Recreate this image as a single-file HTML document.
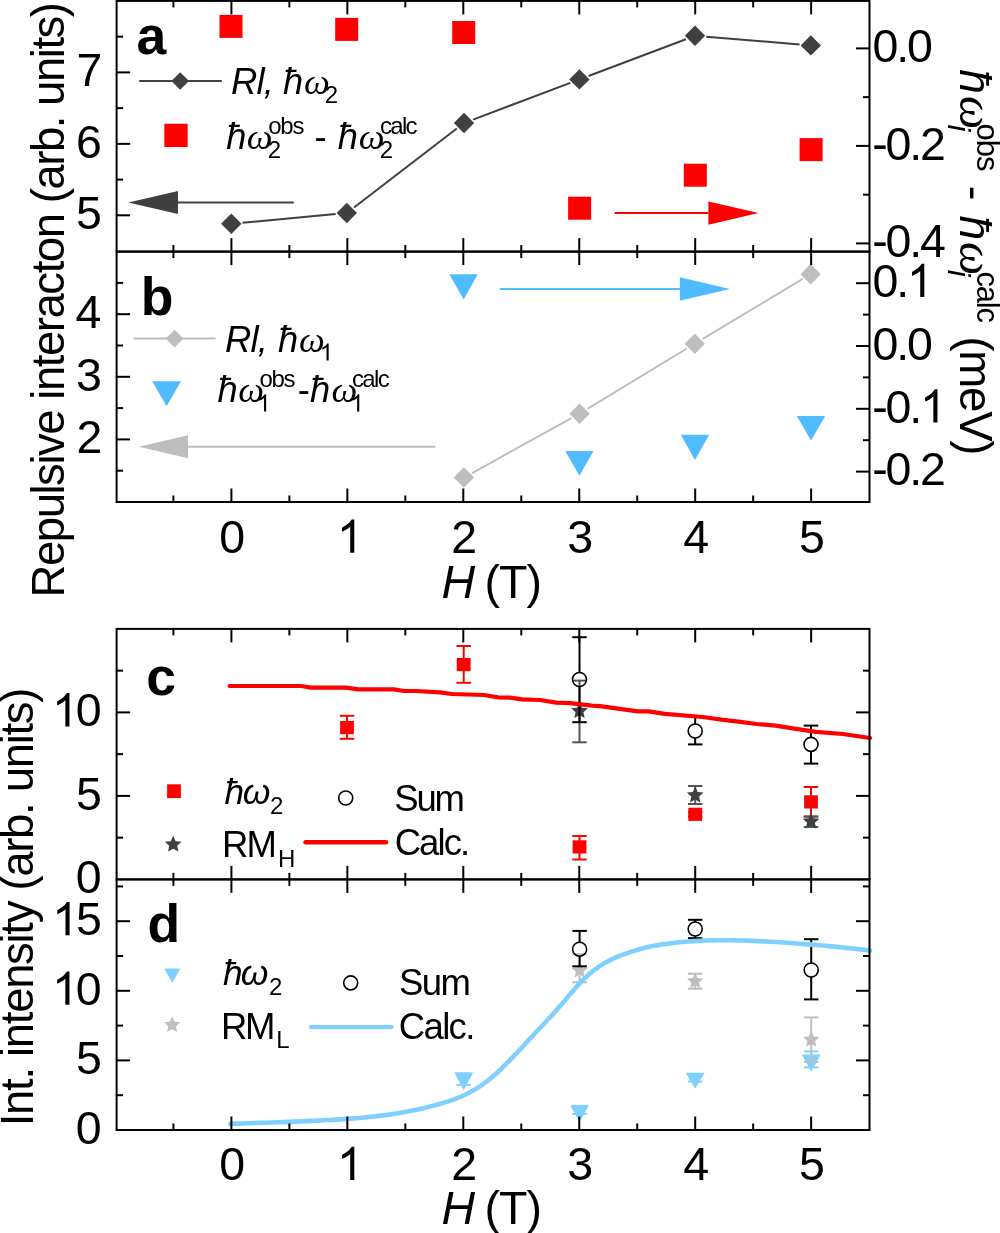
<!DOCTYPE html>
<html><head><meta charset="utf-8"><style>
html,body{margin:0;padding:0;background:#fff;overflow:hidden;}
svg{display:block;will-change:transform;}
</style></head><body>
<svg width="1000" height="1233" viewBox="0 0 1000 1233">
<rect width="1000" height="1233" fill="#fff"/>
<line x1="242.42" y1="222.71" x2="335.68" y2="214.04" stroke="#404040" stroke-width="2.00" stroke-linecap="butt"/>
<line x1="354.00" y1="207.47" x2="456.80" y2="128.53" stroke="#404040" stroke-width="2.00" stroke-linecap="butt"/>
<line x1="473.09" y1="119.57" x2="570.31" y2="82.83" stroke="#404040" stroke-width="2.00" stroke-linecap="butt"/>
<line x1="588.49" y1="75.97" x2="685.91" y2="39.23" stroke="#404040" stroke-width="2.00" stroke-linecap="butt"/>
<line x1="706.21" y1="36.73" x2="799.59" y2="44.47" stroke="#404040" stroke-width="2.00" stroke-linecap="butt"/>
<path d="M231.30 213.55L241.50 223.75L231.30 233.95L221.10 223.75Z" fill="#404040"/>
<path d="M346.80 202.80L357.00 213.00L346.80 223.20L336.60 213.00Z" fill="#404040"/>
<path d="M464.00 112.80L474.20 123.00L464.00 133.20L453.80 123.00Z" fill="#404040"/>
<path d="M579.40 69.20L589.60 79.40L579.40 89.60L569.20 79.40Z" fill="#404040"/>
<path d="M695.00 25.60L705.20 35.80L695.00 46.00L684.80 35.80Z" fill="#404040"/>
<path d="M810.80 35.20L821.00 45.40L810.80 55.60L800.60 45.40Z" fill="#404040"/>
<rect x="219.50" y="14.90" width="23.00" height="23.00" fill="#ff0000"/>
<rect x="335.20" y="17.90" width="23.00" height="23.00" fill="#ff0000"/>
<rect x="452.20" y="21.00" width="23.00" height="23.00" fill="#ff0000"/>
<rect x="568.10" y="196.70" width="23.00" height="23.00" fill="#ff0000"/>
<rect x="683.80" y="163.70" width="23.00" height="23.00" fill="#ff0000"/>
<rect x="799.60" y="138.10" width="23.00" height="23.00" fill="#ff0000"/>
<line x1="293.75" y1="202.50" x2="178.00" y2="202.50" stroke="#404040" stroke-width="2.00" stroke-linecap="butt"/>
<path d="M178.00 190.90L128.25 202.50L178.00 214.10Z" fill="#404040"/>
<line x1="614.60" y1="213.10" x2="708.40" y2="213.10" stroke="#ff0000" stroke-width="2.00" stroke-linecap="butt"/>
<path d="M708.40 201.40L758.60 213.10L708.40 224.80Z" fill="#ff0000"/>
<line x1="139.20" y1="81.00" x2="221.80" y2="81.00" stroke="#404040" stroke-width="2.00" stroke-linecap="butt"/>
<path d="M180.20 72.20L189.00 81.00L180.20 89.80L171.40 81.00Z" fill="#404040"/>
<rect x="164.35" y="123.75" width="23.30" height="23.30" fill="#ff0000"/>
<line x1="472.05" y1="473.01" x2="571.45" y2="418.19" stroke="#bebebe" stroke-width="2.00" stroke-linecap="butt"/>
<line x1="587.48" y1="408.91" x2="686.92" y2="348.49" stroke="#bebebe" stroke-width="2.00" stroke-linecap="butt"/>
<line x1="702.72" y1="338.95" x2="802.68" y2="278.95" stroke="#bebebe" stroke-width="2.00" stroke-linecap="butt"/>
<path d="M463.90 467.30L474.10 477.50L463.90 487.70L453.70 477.50Z" fill="#bebebe"/>
<path d="M579.60 403.50L589.80 413.70L579.60 423.90L569.40 413.70Z" fill="#bebebe"/>
<path d="M694.80 333.50L705.00 343.70L694.80 353.90L684.60 343.70Z" fill="#bebebe"/>
<path d="M810.60 264.00L820.80 274.20L810.60 284.40L800.40 274.20Z" fill="#bebebe"/>
<path d="M449.40 274.20L477.80 274.20L463.60 299.40Z" fill="#50bbff"/>
<path d="M565.20 451.00L593.60 451.00L579.40 475.70Z" fill="#50bbff"/>
<path d="M680.80 434.80L709.20 434.80L695.00 459.90Z" fill="#50bbff"/>
<path d="M796.80 415.90L825.20 415.90L811.00 440.50Z" fill="#50bbff"/>
<line x1="499.80" y1="289.00" x2="679.90" y2="289.00" stroke="#50bbff" stroke-width="2.00" stroke-linecap="butt"/>
<path d="M679.90 277.35L730.00 289.00L679.90 300.65Z" fill="#50bbff"/>
<line x1="435.40" y1="446.80" x2="188.00" y2="446.80" stroke="#bebebe" stroke-width="2.00" stroke-linecap="butt"/>
<path d="M188.00 435.30L138.80 446.80L188.00 458.30Z" fill="#bebebe"/>
<line x1="133.60" y1="338.60" x2="215.60" y2="338.60" stroke="#bebebe" stroke-width="2.00" stroke-linecap="butt"/>
<path d="M174.60 329.80L183.40 338.60L174.60 347.40L165.80 338.60Z" fill="#bebebe"/>
<path d="M152.20 381.20L181.00 381.20L166.60 406.20Z" fill="#50bbff"/>
<line x1="347.00" y1="715.80" x2="347.00" y2="738.80" stroke="#ff0000" stroke-width="2.00" stroke-linecap="butt"/>
<line x1="339.75" y1="715.80" x2="354.25" y2="715.80" stroke="#ff0000" stroke-width="2.00" stroke-linecap="butt"/>
<line x1="339.75" y1="738.80" x2="354.25" y2="738.80" stroke="#ff0000" stroke-width="2.00" stroke-linecap="butt"/>
<rect x="340.10" y="721.00" width="13.80" height="13.20" fill="#ff0000"/>
<line x1="463.70" y1="646.00" x2="463.70" y2="682.80" stroke="#ff0000" stroke-width="2.00" stroke-linecap="butt"/>
<line x1="456.45" y1="646.00" x2="470.95" y2="646.00" stroke="#ff0000" stroke-width="2.00" stroke-linecap="butt"/>
<line x1="456.45" y1="682.80" x2="470.95" y2="682.80" stroke="#ff0000" stroke-width="2.00" stroke-linecap="butt"/>
<rect x="456.80" y="658.00" width="13.80" height="13.20" fill="#ff0000"/>
<line x1="579.50" y1="836.00" x2="579.50" y2="859.50" stroke="#ff0000" stroke-width="2.00" stroke-linecap="butt"/>
<line x1="572.25" y1="836.00" x2="586.75" y2="836.00" stroke="#ff0000" stroke-width="2.00" stroke-linecap="butt"/>
<line x1="572.25" y1="859.50" x2="586.75" y2="859.50" stroke="#ff0000" stroke-width="2.00" stroke-linecap="butt"/>
<rect x="572.60" y="840.30" width="13.80" height="13.20" fill="#ff0000"/>
<line x1="695.20" y1="812.50" x2="695.20" y2="816.50" stroke="#ff0000" stroke-width="2.00" stroke-linecap="butt"/>
<line x1="687.95" y1="812.50" x2="702.45" y2="812.50" stroke="#ff0000" stroke-width="2.00" stroke-linecap="butt"/>
<line x1="687.95" y1="816.50" x2="702.45" y2="816.50" stroke="#ff0000" stroke-width="2.00" stroke-linecap="butt"/>
<rect x="688.30" y="807.70" width="13.80" height="13.20" fill="#ff0000"/>
<line x1="811.00" y1="787.00" x2="811.00" y2="816.50" stroke="#ff0000" stroke-width="2.00" stroke-linecap="butt"/>
<line x1="803.75" y1="787.00" x2="818.25" y2="787.00" stroke="#ff0000" stroke-width="2.00" stroke-linecap="butt"/>
<line x1="803.75" y1="816.50" x2="818.25" y2="816.50" stroke="#ff0000" stroke-width="2.00" stroke-linecap="butt"/>
<rect x="804.10" y="795.30" width="13.80" height="13.20" fill="#ff0000"/>
<line x1="579.50" y1="680.60" x2="579.50" y2="742.30" stroke="#555555" stroke-width="2.00" stroke-linecap="butt"/>
<line x1="572.25" y1="680.60" x2="586.75" y2="680.60" stroke="#555555" stroke-width="2.00" stroke-linecap="butt"/>
<line x1="572.25" y1="742.30" x2="586.75" y2="742.30" stroke="#555555" stroke-width="2.00" stroke-linecap="butt"/>
<path d="M579.50 702.20L581.93 707.65L587.87 708.28L583.43 712.28L584.67 718.12L579.50 715.14L574.33 718.12L575.57 712.28L571.13 708.28L577.07 707.65Z" fill="#404040"/>
<line x1="695.20" y1="786.00" x2="695.20" y2="804.00" stroke="#555555" stroke-width="2.00" stroke-linecap="butt"/>
<line x1="687.95" y1="786.00" x2="702.45" y2="786.00" stroke="#555555" stroke-width="2.00" stroke-linecap="butt"/>
<line x1="687.95" y1="804.00" x2="702.45" y2="804.00" stroke="#555555" stroke-width="2.00" stroke-linecap="butt"/>
<path d="M695.20 786.50L697.63 791.95L703.57 792.58L699.13 796.58L700.37 802.42L695.20 799.44L690.03 802.42L691.27 796.58L686.83 792.58L692.77 791.95Z" fill="#404040"/>
<line x1="811.00" y1="816.60" x2="811.00" y2="827.00" stroke="#555555" stroke-width="2.00" stroke-linecap="butt"/>
<line x1="803.75" y1="816.60" x2="818.25" y2="816.60" stroke="#555555" stroke-width="2.00" stroke-linecap="butt"/>
<line x1="803.75" y1="827.00" x2="818.25" y2="827.00" stroke="#555555" stroke-width="2.00" stroke-linecap="butt"/>
<path d="M811.00 812.70L813.43 818.15L819.37 818.78L814.93 822.78L816.17 828.62L811.00 825.64L805.83 828.62L807.07 822.78L802.63 818.78L808.57 818.15Z" fill="#404040"/>
<line x1="579.50" y1="637.20" x2="579.50" y2="672.50" stroke="#000" stroke-width="2.00" stroke-linecap="butt"/>
<line x1="579.50" y1="686.50" x2="579.50" y2="722.20" stroke="#000" stroke-width="2.00" stroke-linecap="butt"/>
<line x1="572.25" y1="637.20" x2="586.75" y2="637.20" stroke="#000" stroke-width="2.00" stroke-linecap="butt"/>
<line x1="572.25" y1="722.20" x2="586.75" y2="722.20" stroke="#000" stroke-width="2.00" stroke-linecap="butt"/>
<circle cx="579.50" cy="679.50" r="7.00" fill="none" stroke="#000" stroke-width="1.60"/>
<line x1="695.20" y1="716.60" x2="695.20" y2="724.00" stroke="#000" stroke-width="2.00" stroke-linecap="butt"/>
<line x1="695.20" y1="738.00" x2="695.20" y2="744.40" stroke="#000" stroke-width="2.00" stroke-linecap="butt"/>
<line x1="687.95" y1="716.60" x2="702.45" y2="716.60" stroke="#000" stroke-width="2.00" stroke-linecap="butt"/>
<line x1="687.95" y1="744.40" x2="702.45" y2="744.40" stroke="#000" stroke-width="2.00" stroke-linecap="butt"/>
<circle cx="695.20" cy="731.00" r="7.00" fill="none" stroke="#000" stroke-width="1.60"/>
<line x1="811.00" y1="725.60" x2="811.00" y2="737.40" stroke="#000" stroke-width="2.00" stroke-linecap="butt"/>
<line x1="811.00" y1="751.40" x2="811.00" y2="763.60" stroke="#000" stroke-width="2.00" stroke-linecap="butt"/>
<line x1="803.75" y1="725.60" x2="818.25" y2="725.60" stroke="#000" stroke-width="2.00" stroke-linecap="butt"/>
<line x1="803.75" y1="763.60" x2="818.25" y2="763.60" stroke="#000" stroke-width="2.00" stroke-linecap="butt"/>
<circle cx="811.00" cy="744.40" r="7.00" fill="none" stroke="#000" stroke-width="1.60"/>
<polyline points="229.60,686.00 301.00,686.00 311.00,687.60 346.00,687.60 358.00,689.40 394.00,689.40 404.00,691.00 416.00,691.00 440.00,692.40 452.00,694.00 484.00,695.00 498.00,697.40 510.00,697.60 522.00,699.40 540.00,700.00 556.00,702.60 570.00,703.20 592.00,705.60 600.00,706.20 637.80,711.30 648.60,711.30 664.80,713.80 702.60,717.00 721.50,719.70 740.40,721.90 756.60,724.00 775.50,725.60 794.40,728.60 816.00,731.80 843.00,734.00 870.00,738.00" fill="none" stroke="#ff0000" stroke-width="4.20" stroke-linejoin="round" stroke-linecap="round"/>
<rect x="167.10" y="784.30" width="13.80" height="13.80" fill="#ff0000"/>
<circle cx="345.70" cy="798.00" r="7.00" fill="none" stroke="#000" stroke-width="1.60"/>
<path d="M173.20 835.70L175.63 841.15L181.57 841.78L177.13 845.78L178.37 851.62L173.20 848.64L168.03 851.62L169.27 845.78L164.83 841.78L170.77 841.15Z" fill="#404040"/>
<line x1="305.50" y1="842.30" x2="386.00" y2="842.30" stroke="#ff0000" stroke-width="4.40" stroke-linecap="round"/>
<line x1="463.70" y1="1073.40" x2="463.70" y2="1084.90" stroke="#80d0ff" stroke-width="2.00" stroke-linecap="butt"/>
<line x1="456.45" y1="1073.40" x2="470.95" y2="1073.40" stroke="#80d0ff" stroke-width="2.00" stroke-linecap="butt"/>
<line x1="456.45" y1="1084.90" x2="470.95" y2="1084.90" stroke="#80d0ff" stroke-width="2.00" stroke-linecap="butt"/>
<path d="M454.20 1072.50L473.20 1072.50L463.70 1090.20Z" fill="#80d0ff"/>
<line x1="579.60" y1="1106.00" x2="579.60" y2="1114.00" stroke="#80d0ff" stroke-width="2.00" stroke-linecap="butt"/>
<line x1="572.35" y1="1106.00" x2="586.85" y2="1106.00" stroke="#80d0ff" stroke-width="2.00" stroke-linecap="butt"/>
<line x1="572.35" y1="1114.00" x2="586.85" y2="1114.00" stroke="#80d0ff" stroke-width="2.00" stroke-linecap="butt"/>
<path d="M570.10 1105.20L589.10 1105.20L579.60 1121.80Z" fill="#80d0ff"/>
<line x1="695.20" y1="1075.00" x2="695.20" y2="1081.50" stroke="#80d0ff" stroke-width="2.00" stroke-linecap="butt"/>
<line x1="687.95" y1="1075.00" x2="702.45" y2="1075.00" stroke="#80d0ff" stroke-width="2.00" stroke-linecap="butt"/>
<line x1="687.95" y1="1081.50" x2="702.45" y2="1081.50" stroke="#80d0ff" stroke-width="2.00" stroke-linecap="butt"/>
<path d="M685.70 1072.70L704.70 1072.70L695.20 1088.80Z" fill="#80d0ff"/>
<line x1="811.20" y1="1051.40" x2="811.20" y2="1067.40" stroke="#80d0ff" stroke-width="2.00" stroke-linecap="butt"/>
<line x1="803.95" y1="1051.40" x2="818.45" y2="1051.40" stroke="#80d0ff" stroke-width="2.00" stroke-linecap="butt"/>
<line x1="803.95" y1="1067.40" x2="818.45" y2="1067.40" stroke="#80d0ff" stroke-width="2.00" stroke-linecap="butt"/>
<path d="M801.70 1054.60L820.70 1054.60L811.20 1071.60Z" fill="#80d0ff"/>
<line x1="579.60" y1="954.30" x2="579.60" y2="982.30" stroke="#bebebe" stroke-width="2.00" stroke-linecap="butt"/>
<line x1="572.35" y1="954.30" x2="586.85" y2="954.30" stroke="#bebebe" stroke-width="2.00" stroke-linecap="butt"/>
<line x1="572.35" y1="982.30" x2="586.85" y2="982.30" stroke="#bebebe" stroke-width="2.00" stroke-linecap="butt"/>
<path d="M579.60 961.90L581.98 967.23L587.78 967.84L583.44 971.75L584.65 977.46L579.60 974.54L574.55 977.46L575.76 971.75L571.42 967.84L577.22 967.23Z" fill="#bebebe"/>
<line x1="695.20" y1="973.70" x2="695.20" y2="988.70" stroke="#bebebe" stroke-width="2.00" stroke-linecap="butt"/>
<line x1="687.95" y1="973.70" x2="702.45" y2="973.70" stroke="#bebebe" stroke-width="2.00" stroke-linecap="butt"/>
<line x1="687.95" y1="988.70" x2="702.45" y2="988.70" stroke="#bebebe" stroke-width="2.00" stroke-linecap="butt"/>
<path d="M695.20 972.60L697.58 977.93L703.38 978.54L699.04 982.45L700.25 988.16L695.20 985.24L690.15 988.16L691.36 982.45L687.02 978.54L692.82 977.93Z" fill="#bebebe"/>
<line x1="811.20" y1="1017.40" x2="811.20" y2="1061.90" stroke="#bebebe" stroke-width="2.00" stroke-linecap="butt"/>
<line x1="803.95" y1="1017.40" x2="818.45" y2="1017.40" stroke="#bebebe" stroke-width="2.00" stroke-linecap="butt"/>
<line x1="803.95" y1="1061.90" x2="818.45" y2="1061.90" stroke="#bebebe" stroke-width="2.00" stroke-linecap="butt"/>
<path d="M811.20 1031.10L813.58 1036.43L819.38 1037.04L815.04 1040.95L816.25 1046.66L811.20 1043.74L806.15 1046.66L807.36 1040.95L803.02 1037.04L808.82 1036.43Z" fill="#bebebe"/>
<line x1="579.60" y1="930.90" x2="579.60" y2="942.20" stroke="#000" stroke-width="2.00" stroke-linecap="butt"/>
<line x1="579.60" y1="956.20" x2="579.60" y2="966.30" stroke="#000" stroke-width="2.00" stroke-linecap="butt"/>
<line x1="572.35" y1="930.90" x2="586.85" y2="930.90" stroke="#000" stroke-width="2.00" stroke-linecap="butt"/>
<line x1="572.35" y1="966.30" x2="586.85" y2="966.30" stroke="#000" stroke-width="2.00" stroke-linecap="butt"/>
<circle cx="579.60" cy="949.20" r="7.00" fill="none" stroke="#000" stroke-width="1.60"/>
<line x1="695.20" y1="919.80" x2="695.20" y2="922.00" stroke="#000" stroke-width="2.00" stroke-linecap="butt"/>
<line x1="695.20" y1="936.00" x2="695.20" y2="938.20" stroke="#000" stroke-width="2.00" stroke-linecap="butt"/>
<line x1="687.95" y1="919.80" x2="702.45" y2="919.80" stroke="#000" stroke-width="2.00" stroke-linecap="butt"/>
<line x1="687.95" y1="938.20" x2="702.45" y2="938.20" stroke="#000" stroke-width="2.00" stroke-linecap="butt"/>
<circle cx="695.20" cy="929.00" r="7.00" fill="none" stroke="#000" stroke-width="1.60"/>
<line x1="811.20" y1="939.20" x2="811.20" y2="963.00" stroke="#000" stroke-width="2.00" stroke-linecap="butt"/>
<line x1="811.20" y1="977.00" x2="811.20" y2="999.40" stroke="#000" stroke-width="2.00" stroke-linecap="butt"/>
<line x1="803.95" y1="939.20" x2="818.45" y2="939.20" stroke="#000" stroke-width="2.00" stroke-linecap="butt"/>
<line x1="803.95" y1="999.40" x2="818.45" y2="999.40" stroke="#000" stroke-width="2.00" stroke-linecap="butt"/>
<circle cx="811.20" cy="970.00" r="7.00" fill="none" stroke="#000" stroke-width="1.60"/>
<polyline points="230.40,1123.83 236.27,1123.64 242.14,1123.45 248.00,1123.26 253.87,1123.07 259.74,1122.88 265.61,1122.69 271.48,1122.49 277.34,1122.29 283.21,1122.08 289.08,1121.87 294.95,1121.64 300.81,1121.40 306.68,1121.15 312.55,1120.88 318.42,1120.60 324.29,1120.30 330.15,1119.98 336.02,1119.64 341.89,1119.27 347.76,1118.86 353.63,1118.41 359.49,1117.92 365.36,1117.38 371.23,1116.78 377.10,1116.12 382.97,1115.40 388.83,1114.61 394.70,1113.73 400.57,1112.78 406.44,1111.74 412.30,1110.61 418.17,1109.39 424.04,1108.06 429.91,1106.62 435.78,1105.08 441.64,1103.41 447.51,1101.60 453.38,1099.60 459.25,1097.33 465.12,1094.75 470.98,1091.78 476.85,1088.38 482.72,1084.47 488.59,1080.02 494.46,1075.07 500.32,1069.69 506.19,1063.97 512.06,1057.97 517.93,1051.77 523.79,1045.45 529.66,1039.09 535.53,1032.76 541.40,1026.50 547.27,1020.22 553.13,1013.85 559.00,1007.30 564.87,1000.50 570.74,993.51 576.61,986.68 582.47,980.38 588.34,974.84 594.21,970.03 600.08,965.89 605.94,962.35 611.81,959.33 617.68,956.71 623.55,954.39 629.42,952.30 635.28,950.44 641.15,948.78 647.02,947.32 652.89,946.04 658.76,944.93 664.62,943.98 670.49,943.17 676.36,942.49 682.23,941.93 688.10,941.46 693.96,941.09 699.83,940.79 705.70,940.56 711.57,940.40 717.43,940.30 723.30,940.27 729.17,940.28 735.04,940.36 740.91,940.48 746.77,940.64 752.64,940.85 758.51,941.10 764.38,941.39 770.25,941.71 776.11,942.06 781.98,942.43 787.85,942.83 793.72,943.24 799.59,943.68 805.45,944.12 811.32,944.59 817.19,945.07 823.06,945.57 828.92,946.10 834.79,946.65 840.66,947.23 846.53,947.84 852.40,948.47 858.26,949.14 864.13,949.85 870.00,950.59" fill="none" stroke="#80d0ff" stroke-width="4.60" stroke-linejoin="round" stroke-linecap="round"/>
<path d="M164.20 968.50L180.40 968.50L172.30 982.90Z" fill="#80d0ff"/>
<circle cx="350.70" cy="982.90" r="7.00" fill="none" stroke="#000" stroke-width="1.60"/>
<path d="M172.10 1016.40L174.48 1021.73L180.28 1022.34L175.94 1026.25L177.15 1031.96L172.10 1029.04L167.05 1031.96L168.26 1026.25L163.92 1022.34L169.72 1021.73Z" fill="#bebebe"/>
<line x1="310.90" y1="1027.10" x2="391.70" y2="1027.10" stroke="#80d0ff" stroke-width="4.20" stroke-linecap="round"/>
<rect x="116.60" y="0.90" width="752.90" height="250.70" fill="none" stroke="#000" stroke-width="2.00"/>
<line x1="173.43" y1="0.90" x2="173.43" y2="7.40" stroke="#000" stroke-width="2.00" stroke-linecap="butt"/>
<line x1="173.43" y1="251.60" x2="173.43" y2="245.10" stroke="#000" stroke-width="2.00" stroke-linecap="butt"/>
<line x1="231.40" y1="0.90" x2="231.40" y2="14.40" stroke="#000" stroke-width="2.00" stroke-linecap="butt"/>
<line x1="231.40" y1="251.60" x2="231.40" y2="238.10" stroke="#000" stroke-width="2.00" stroke-linecap="butt"/>
<line x1="289.38" y1="0.90" x2="289.38" y2="7.40" stroke="#000" stroke-width="2.00" stroke-linecap="butt"/>
<line x1="289.38" y1="251.60" x2="289.38" y2="245.10" stroke="#000" stroke-width="2.00" stroke-linecap="butt"/>
<line x1="347.35" y1="0.90" x2="347.35" y2="14.40" stroke="#000" stroke-width="2.00" stroke-linecap="butt"/>
<line x1="347.35" y1="251.60" x2="347.35" y2="238.10" stroke="#000" stroke-width="2.00" stroke-linecap="butt"/>
<line x1="405.33" y1="0.90" x2="405.33" y2="7.40" stroke="#000" stroke-width="2.00" stroke-linecap="butt"/>
<line x1="405.33" y1="251.60" x2="405.33" y2="245.10" stroke="#000" stroke-width="2.00" stroke-linecap="butt"/>
<line x1="463.30" y1="0.90" x2="463.30" y2="14.40" stroke="#000" stroke-width="2.00" stroke-linecap="butt"/>
<line x1="463.30" y1="251.60" x2="463.30" y2="238.10" stroke="#000" stroke-width="2.00" stroke-linecap="butt"/>
<line x1="521.27" y1="0.90" x2="521.27" y2="7.40" stroke="#000" stroke-width="2.00" stroke-linecap="butt"/>
<line x1="521.27" y1="251.60" x2="521.27" y2="245.10" stroke="#000" stroke-width="2.00" stroke-linecap="butt"/>
<line x1="579.25" y1="0.90" x2="579.25" y2="14.40" stroke="#000" stroke-width="2.00" stroke-linecap="butt"/>
<line x1="579.25" y1="251.60" x2="579.25" y2="238.10" stroke="#000" stroke-width="2.00" stroke-linecap="butt"/>
<line x1="637.23" y1="0.90" x2="637.23" y2="7.40" stroke="#000" stroke-width="2.00" stroke-linecap="butt"/>
<line x1="637.23" y1="251.60" x2="637.23" y2="245.10" stroke="#000" stroke-width="2.00" stroke-linecap="butt"/>
<line x1="695.20" y1="0.90" x2="695.20" y2="14.40" stroke="#000" stroke-width="2.00" stroke-linecap="butt"/>
<line x1="695.20" y1="251.60" x2="695.20" y2="238.10" stroke="#000" stroke-width="2.00" stroke-linecap="butt"/>
<line x1="753.17" y1="0.90" x2="753.17" y2="7.40" stroke="#000" stroke-width="2.00" stroke-linecap="butt"/>
<line x1="753.17" y1="251.60" x2="753.17" y2="245.10" stroke="#000" stroke-width="2.00" stroke-linecap="butt"/>
<line x1="811.15" y1="0.90" x2="811.15" y2="14.40" stroke="#000" stroke-width="2.00" stroke-linecap="butt"/>
<line x1="811.15" y1="251.60" x2="811.15" y2="238.10" stroke="#000" stroke-width="2.00" stroke-linecap="butt"/>
<rect x="116.60" y="251.60" width="752.90" height="250.40" fill="none" stroke="#000" stroke-width="2.00"/>
<line x1="173.43" y1="251.60" x2="173.43" y2="258.10" stroke="#000" stroke-width="2.00" stroke-linecap="butt"/>
<line x1="173.43" y1="502.00" x2="173.43" y2="495.50" stroke="#000" stroke-width="2.00" stroke-linecap="butt"/>
<line x1="231.40" y1="251.60" x2="231.40" y2="265.10" stroke="#000" stroke-width="2.00" stroke-linecap="butt"/>
<line x1="231.40" y1="502.00" x2="231.40" y2="488.50" stroke="#000" stroke-width="2.00" stroke-linecap="butt"/>
<line x1="289.38" y1="251.60" x2="289.38" y2="258.10" stroke="#000" stroke-width="2.00" stroke-linecap="butt"/>
<line x1="289.38" y1="502.00" x2="289.38" y2="495.50" stroke="#000" stroke-width="2.00" stroke-linecap="butt"/>
<line x1="347.35" y1="251.60" x2="347.35" y2="265.10" stroke="#000" stroke-width="2.00" stroke-linecap="butt"/>
<line x1="347.35" y1="502.00" x2="347.35" y2="488.50" stroke="#000" stroke-width="2.00" stroke-linecap="butt"/>
<line x1="405.33" y1="251.60" x2="405.33" y2="258.10" stroke="#000" stroke-width="2.00" stroke-linecap="butt"/>
<line x1="405.33" y1="502.00" x2="405.33" y2="495.50" stroke="#000" stroke-width="2.00" stroke-linecap="butt"/>
<line x1="463.30" y1="251.60" x2="463.30" y2="265.10" stroke="#000" stroke-width="2.00" stroke-linecap="butt"/>
<line x1="463.30" y1="502.00" x2="463.30" y2="488.50" stroke="#000" stroke-width="2.00" stroke-linecap="butt"/>
<line x1="521.27" y1="251.60" x2="521.27" y2="258.10" stroke="#000" stroke-width="2.00" stroke-linecap="butt"/>
<line x1="521.27" y1="502.00" x2="521.27" y2="495.50" stroke="#000" stroke-width="2.00" stroke-linecap="butt"/>
<line x1="579.25" y1="251.60" x2="579.25" y2="265.10" stroke="#000" stroke-width="2.00" stroke-linecap="butt"/>
<line x1="579.25" y1="502.00" x2="579.25" y2="488.50" stroke="#000" stroke-width="2.00" stroke-linecap="butt"/>
<line x1="637.23" y1="251.60" x2="637.23" y2="258.10" stroke="#000" stroke-width="2.00" stroke-linecap="butt"/>
<line x1="637.23" y1="502.00" x2="637.23" y2="495.50" stroke="#000" stroke-width="2.00" stroke-linecap="butt"/>
<line x1="695.20" y1="251.60" x2="695.20" y2="265.10" stroke="#000" stroke-width="2.00" stroke-linecap="butt"/>
<line x1="695.20" y1="502.00" x2="695.20" y2="488.50" stroke="#000" stroke-width="2.00" stroke-linecap="butt"/>
<line x1="753.17" y1="251.60" x2="753.17" y2="258.10" stroke="#000" stroke-width="2.00" stroke-linecap="butt"/>
<line x1="753.17" y1="502.00" x2="753.17" y2="495.50" stroke="#000" stroke-width="2.00" stroke-linecap="butt"/>
<line x1="811.15" y1="251.60" x2="811.15" y2="265.10" stroke="#000" stroke-width="2.00" stroke-linecap="butt"/>
<line x1="811.15" y1="502.00" x2="811.15" y2="488.50" stroke="#000" stroke-width="2.00" stroke-linecap="butt"/>
<rect x="116.60" y="628.90" width="752.90" height="250.50" fill="none" stroke="#000" stroke-width="2.00"/>
<line x1="173.43" y1="628.90" x2="173.43" y2="635.40" stroke="#000" stroke-width="2.00" stroke-linecap="butt"/>
<line x1="173.43" y1="879.40" x2="173.43" y2="872.90" stroke="#000" stroke-width="2.00" stroke-linecap="butt"/>
<line x1="231.40" y1="628.90" x2="231.40" y2="642.40" stroke="#000" stroke-width="2.00" stroke-linecap="butt"/>
<line x1="231.40" y1="879.40" x2="231.40" y2="865.90" stroke="#000" stroke-width="2.00" stroke-linecap="butt"/>
<line x1="289.38" y1="628.90" x2="289.38" y2="635.40" stroke="#000" stroke-width="2.00" stroke-linecap="butt"/>
<line x1="289.38" y1="879.40" x2="289.38" y2="872.90" stroke="#000" stroke-width="2.00" stroke-linecap="butt"/>
<line x1="347.35" y1="628.90" x2="347.35" y2="642.40" stroke="#000" stroke-width="2.00" stroke-linecap="butt"/>
<line x1="347.35" y1="879.40" x2="347.35" y2="865.90" stroke="#000" stroke-width="2.00" stroke-linecap="butt"/>
<line x1="405.33" y1="628.90" x2="405.33" y2="635.40" stroke="#000" stroke-width="2.00" stroke-linecap="butt"/>
<line x1="405.33" y1="879.40" x2="405.33" y2="872.90" stroke="#000" stroke-width="2.00" stroke-linecap="butt"/>
<line x1="463.30" y1="628.90" x2="463.30" y2="642.40" stroke="#000" stroke-width="2.00" stroke-linecap="butt"/>
<line x1="463.30" y1="879.40" x2="463.30" y2="865.90" stroke="#000" stroke-width="2.00" stroke-linecap="butt"/>
<line x1="521.27" y1="628.90" x2="521.27" y2="635.40" stroke="#000" stroke-width="2.00" stroke-linecap="butt"/>
<line x1="521.27" y1="879.40" x2="521.27" y2="872.90" stroke="#000" stroke-width="2.00" stroke-linecap="butt"/>
<line x1="579.25" y1="628.90" x2="579.25" y2="642.40" stroke="#000" stroke-width="2.00" stroke-linecap="butt"/>
<line x1="579.25" y1="879.40" x2="579.25" y2="865.90" stroke="#000" stroke-width="2.00" stroke-linecap="butt"/>
<line x1="637.23" y1="628.90" x2="637.23" y2="635.40" stroke="#000" stroke-width="2.00" stroke-linecap="butt"/>
<line x1="637.23" y1="879.40" x2="637.23" y2="872.90" stroke="#000" stroke-width="2.00" stroke-linecap="butt"/>
<line x1="695.20" y1="628.90" x2="695.20" y2="642.40" stroke="#000" stroke-width="2.00" stroke-linecap="butt"/>
<line x1="695.20" y1="879.40" x2="695.20" y2="865.90" stroke="#000" stroke-width="2.00" stroke-linecap="butt"/>
<line x1="753.17" y1="628.90" x2="753.17" y2="635.40" stroke="#000" stroke-width="2.00" stroke-linecap="butt"/>
<line x1="753.17" y1="879.40" x2="753.17" y2="872.90" stroke="#000" stroke-width="2.00" stroke-linecap="butt"/>
<line x1="811.15" y1="628.90" x2="811.15" y2="642.40" stroke="#000" stroke-width="2.00" stroke-linecap="butt"/>
<line x1="811.15" y1="879.40" x2="811.15" y2="865.90" stroke="#000" stroke-width="2.00" stroke-linecap="butt"/>
<rect x="116.60" y="879.40" width="752.90" height="250.60" fill="none" stroke="#000" stroke-width="2.00"/>
<line x1="173.43" y1="879.40" x2="173.43" y2="885.90" stroke="#000" stroke-width="2.00" stroke-linecap="butt"/>
<line x1="173.43" y1="1130.00" x2="173.43" y2="1123.50" stroke="#000" stroke-width="2.00" stroke-linecap="butt"/>
<line x1="231.40" y1="879.40" x2="231.40" y2="892.90" stroke="#000" stroke-width="2.00" stroke-linecap="butt"/>
<line x1="231.40" y1="1130.00" x2="231.40" y2="1116.50" stroke="#000" stroke-width="2.00" stroke-linecap="butt"/>
<line x1="289.38" y1="879.40" x2="289.38" y2="885.90" stroke="#000" stroke-width="2.00" stroke-linecap="butt"/>
<line x1="289.38" y1="1130.00" x2="289.38" y2="1123.50" stroke="#000" stroke-width="2.00" stroke-linecap="butt"/>
<line x1="347.35" y1="879.40" x2="347.35" y2="892.90" stroke="#000" stroke-width="2.00" stroke-linecap="butt"/>
<line x1="347.35" y1="1130.00" x2="347.35" y2="1116.50" stroke="#000" stroke-width="2.00" stroke-linecap="butt"/>
<line x1="405.33" y1="879.40" x2="405.33" y2="885.90" stroke="#000" stroke-width="2.00" stroke-linecap="butt"/>
<line x1="405.33" y1="1130.00" x2="405.33" y2="1123.50" stroke="#000" stroke-width="2.00" stroke-linecap="butt"/>
<line x1="463.30" y1="879.40" x2="463.30" y2="892.90" stroke="#000" stroke-width="2.00" stroke-linecap="butt"/>
<line x1="463.30" y1="1130.00" x2="463.30" y2="1116.50" stroke="#000" stroke-width="2.00" stroke-linecap="butt"/>
<line x1="521.27" y1="879.40" x2="521.27" y2="885.90" stroke="#000" stroke-width="2.00" stroke-linecap="butt"/>
<line x1="521.27" y1="1130.00" x2="521.27" y2="1123.50" stroke="#000" stroke-width="2.00" stroke-linecap="butt"/>
<line x1="579.25" y1="879.40" x2="579.25" y2="892.90" stroke="#000" stroke-width="2.00" stroke-linecap="butt"/>
<line x1="579.25" y1="1130.00" x2="579.25" y2="1116.50" stroke="#000" stroke-width="2.00" stroke-linecap="butt"/>
<line x1="637.23" y1="879.40" x2="637.23" y2="885.90" stroke="#000" stroke-width="2.00" stroke-linecap="butt"/>
<line x1="637.23" y1="1130.00" x2="637.23" y2="1123.50" stroke="#000" stroke-width="2.00" stroke-linecap="butt"/>
<line x1="695.20" y1="879.40" x2="695.20" y2="892.90" stroke="#000" stroke-width="2.00" stroke-linecap="butt"/>
<line x1="695.20" y1="1130.00" x2="695.20" y2="1116.50" stroke="#000" stroke-width="2.00" stroke-linecap="butt"/>
<line x1="753.17" y1="879.40" x2="753.17" y2="885.90" stroke="#000" stroke-width="2.00" stroke-linecap="butt"/>
<line x1="753.17" y1="1130.00" x2="753.17" y2="1123.50" stroke="#000" stroke-width="2.00" stroke-linecap="butt"/>
<line x1="811.15" y1="879.40" x2="811.15" y2="892.90" stroke="#000" stroke-width="2.00" stroke-linecap="butt"/>
<line x1="811.15" y1="1130.00" x2="811.15" y2="1116.50" stroke="#000" stroke-width="2.00" stroke-linecap="butt"/>
<line x1="116.60" y1="215.30" x2="130.10" y2="215.30" stroke="#000" stroke-width="2.00" stroke-linecap="butt"/>
<line x1="116.60" y1="143.85" x2="130.10" y2="143.85" stroke="#000" stroke-width="2.00" stroke-linecap="butt"/>
<line x1="116.60" y1="72.40" x2="130.10" y2="72.40" stroke="#000" stroke-width="2.00" stroke-linecap="butt"/>
<line x1="116.60" y1="179.58" x2="123.10" y2="179.58" stroke="#000" stroke-width="2.00" stroke-linecap="butt"/>
<line x1="116.60" y1="108.12" x2="123.10" y2="108.12" stroke="#000" stroke-width="2.00" stroke-linecap="butt"/>
<line x1="116.60" y1="36.68" x2="123.10" y2="36.68" stroke="#000" stroke-width="2.00" stroke-linecap="butt"/>
<line x1="869.50" y1="48.40" x2="856.00" y2="48.40" stroke="#000" stroke-width="2.00" stroke-linecap="butt"/>
<line x1="869.50" y1="145.90" x2="856.00" y2="145.90" stroke="#000" stroke-width="2.00" stroke-linecap="butt"/>
<line x1="869.50" y1="243.40" x2="856.00" y2="243.40" stroke="#000" stroke-width="2.00" stroke-linecap="butt"/>
<line x1="869.50" y1="97.15" x2="863.00" y2="97.15" stroke="#000" stroke-width="2.00" stroke-linecap="butt"/>
<line x1="869.50" y1="194.65" x2="863.00" y2="194.65" stroke="#000" stroke-width="2.00" stroke-linecap="butt"/>
<line x1="116.60" y1="439.40" x2="130.10" y2="439.40" stroke="#000" stroke-width="2.00" stroke-linecap="butt"/>
<line x1="116.60" y1="376.80" x2="130.10" y2="376.80" stroke="#000" stroke-width="2.00" stroke-linecap="butt"/>
<line x1="116.60" y1="314.20" x2="130.10" y2="314.20" stroke="#000" stroke-width="2.00" stroke-linecap="butt"/>
<line x1="116.60" y1="470.70" x2="123.10" y2="470.70" stroke="#000" stroke-width="2.00" stroke-linecap="butt"/>
<line x1="116.60" y1="408.10" x2="123.10" y2="408.10" stroke="#000" stroke-width="2.00" stroke-linecap="butt"/>
<line x1="116.60" y1="345.50" x2="123.10" y2="345.50" stroke="#000" stroke-width="2.00" stroke-linecap="butt"/>
<line x1="116.60" y1="282.90" x2="123.10" y2="282.90" stroke="#000" stroke-width="2.00" stroke-linecap="butt"/>
<line x1="869.50" y1="283.20" x2="856.00" y2="283.20" stroke="#000" stroke-width="2.00" stroke-linecap="butt"/>
<line x1="869.50" y1="346.00" x2="856.00" y2="346.00" stroke="#000" stroke-width="2.00" stroke-linecap="butt"/>
<line x1="869.50" y1="408.80" x2="856.00" y2="408.80" stroke="#000" stroke-width="2.00" stroke-linecap="butt"/>
<line x1="869.50" y1="471.60" x2="856.00" y2="471.60" stroke="#000" stroke-width="2.00" stroke-linecap="butt"/>
<line x1="869.50" y1="314.60" x2="863.00" y2="314.60" stroke="#000" stroke-width="2.00" stroke-linecap="butt"/>
<line x1="869.50" y1="377.40" x2="863.00" y2="377.40" stroke="#000" stroke-width="2.00" stroke-linecap="butt"/>
<line x1="869.50" y1="440.20" x2="863.00" y2="440.20" stroke="#000" stroke-width="2.00" stroke-linecap="butt"/>
<line x1="116.60" y1="795.90" x2="130.10" y2="795.90" stroke="#000" stroke-width="2.00" stroke-linecap="butt"/>
<line x1="869.50" y1="795.90" x2="856.00" y2="795.90" stroke="#000" stroke-width="2.00" stroke-linecap="butt"/>
<line x1="116.60" y1="712.40" x2="130.10" y2="712.40" stroke="#000" stroke-width="2.00" stroke-linecap="butt"/>
<line x1="869.50" y1="712.40" x2="856.00" y2="712.40" stroke="#000" stroke-width="2.00" stroke-linecap="butt"/>
<line x1="116.60" y1="837.65" x2="123.10" y2="837.65" stroke="#000" stroke-width="2.00" stroke-linecap="butt"/>
<line x1="869.50" y1="837.65" x2="863.00" y2="837.65" stroke="#000" stroke-width="2.00" stroke-linecap="butt"/>
<line x1="116.60" y1="754.15" x2="123.10" y2="754.15" stroke="#000" stroke-width="2.00" stroke-linecap="butt"/>
<line x1="869.50" y1="754.15" x2="863.00" y2="754.15" stroke="#000" stroke-width="2.00" stroke-linecap="butt"/>
<line x1="116.60" y1="670.65" x2="123.10" y2="670.65" stroke="#000" stroke-width="2.00" stroke-linecap="butt"/>
<line x1="869.50" y1="670.65" x2="863.00" y2="670.65" stroke="#000" stroke-width="2.00" stroke-linecap="butt"/>
<line x1="116.60" y1="1060.40" x2="130.10" y2="1060.40" stroke="#000" stroke-width="2.00" stroke-linecap="butt"/>
<line x1="869.50" y1="1060.40" x2="856.00" y2="1060.40" stroke="#000" stroke-width="2.00" stroke-linecap="butt"/>
<line x1="116.60" y1="990.80" x2="130.10" y2="990.80" stroke="#000" stroke-width="2.00" stroke-linecap="butt"/>
<line x1="869.50" y1="990.80" x2="856.00" y2="990.80" stroke="#000" stroke-width="2.00" stroke-linecap="butt"/>
<line x1="116.60" y1="921.20" x2="130.10" y2="921.20" stroke="#000" stroke-width="2.00" stroke-linecap="butt"/>
<line x1="869.50" y1="921.20" x2="856.00" y2="921.20" stroke="#000" stroke-width="2.00" stroke-linecap="butt"/>
<line x1="116.60" y1="1095.20" x2="123.10" y2="1095.20" stroke="#000" stroke-width="2.00" stroke-linecap="butt"/>
<line x1="869.50" y1="1095.20" x2="863.00" y2="1095.20" stroke="#000" stroke-width="2.00" stroke-linecap="butt"/>
<line x1="116.60" y1="1025.60" x2="123.10" y2="1025.60" stroke="#000" stroke-width="2.00" stroke-linecap="butt"/>
<line x1="869.50" y1="1025.60" x2="863.00" y2="1025.60" stroke="#000" stroke-width="2.00" stroke-linecap="butt"/>
<line x1="116.60" y1="956.00" x2="123.10" y2="956.00" stroke="#000" stroke-width="2.00" stroke-linecap="butt"/>
<line x1="869.50" y1="956.00" x2="863.00" y2="956.00" stroke="#000" stroke-width="2.00" stroke-linecap="butt"/>
<line x1="116.60" y1="886.40" x2="123.10" y2="886.40" stroke="#000" stroke-width="2.00" stroke-linecap="butt"/>
<line x1="869.50" y1="886.40" x2="863.00" y2="886.40" stroke="#000" stroke-width="2.00" stroke-linecap="butt"/>
<g transform="translate(136.43 54.00)" fill="#000"><text x="0.00" y="0.00" style="font-family:&quot;Liberation Sans&quot;;font-style:normal;font-weight:bold;font-size:53.50px;white-space:pre">a</text></g>
<g transform="translate(140.67 315.10)" fill="#000"><text x="0.00" y="0.00" style="font-family:&quot;Liberation Sans&quot;;font-style:normal;font-weight:bold;font-size:53.50px;white-space:pre">b</text></g>
<g transform="translate(146.16 694.70)" fill="#000"><text x="0.00" y="0.00" style="font-family:&quot;Liberation Sans&quot;;font-style:normal;font-weight:bold;font-size:53.50px;white-space:pre">c</text></g>
<g transform="translate(147.61 941.70)" fill="#000"><text x="0.00" y="0.00" style="font-family:&quot;Liberation Sans&quot;;font-style:normal;font-weight:bold;font-size:53.50px;white-space:pre">d</text></g>
<g transform="translate(75.99 229.30)" fill="#000"><text x="0.00" y="0.00" style="font-family:&quot;Liberation Sans&quot;;font-style:normal;font-weight:normal;font-size:46.50px;white-space:pre">5</text></g>
<g transform="translate(76.08 157.85)" fill="#000"><text x="0.00" y="0.00" style="font-family:&quot;Liberation Sans&quot;;font-style:normal;font-weight:normal;font-size:46.50px;white-space:pre">6</text></g>
<g transform="translate(76.38 86.40)" fill="#000"><text x="0.00" y="0.00" style="font-family:&quot;Liberation Sans&quot;;font-style:normal;font-weight:normal;font-size:46.50px;white-space:pre">7</text></g>
<g transform="translate(76.38 453.40)" fill="#000"><text x="0.00" y="0.00" style="font-family:&quot;Liberation Sans&quot;;font-style:normal;font-weight:normal;font-size:46.50px;white-space:pre">2</text></g>
<g transform="translate(76.08 390.80)" fill="#000"><text x="0.00" y="0.00" style="font-family:&quot;Liberation Sans&quot;;font-style:normal;font-weight:normal;font-size:46.50px;white-space:pre">3</text></g>
<g transform="translate(75.40 328.20)" fill="#000"><text x="0.00" y="0.00" style="font-family:&quot;Liberation Sans&quot;;font-style:normal;font-weight:normal;font-size:46.50px;white-space:pre">4</text></g>
<g transform="translate(75.86 893.40)" fill="#000"><text x="0.00" y="0.00" style="font-family:&quot;Liberation Sans&quot;;font-style:normal;font-weight:normal;font-size:46.50px;white-space:pre">0</text></g>
<g transform="translate(75.99 809.90)" fill="#000"><text x="0.00" y="0.00" style="font-family:&quot;Liberation Sans&quot;;font-style:normal;font-weight:normal;font-size:46.50px;white-space:pre">5</text></g>
<g transform="translate(52.10 726.40)" fill="#000"><path d="M17.34 0.00L13.25 0.00L13.25 -26.04C12.28 -25.11 10.97 -24.18 9.35 -23.20C7.72 -22.27 6.28 -21.53 5.02 -21.06L5.02 -25.02C7.30 -26.09 9.30 -27.39 11.02 -28.92C12.74 -30.46 13.95 -31.95 14.69 -33.29L17.34 -33.29Z"/><text x="23.75" y="0.00" style="font-family:&quot;Liberation Sans&quot;;font-style:normal;font-weight:normal;font-size:46.50px;white-space:pre">0</text></g>
<g transform="translate(75.86 1144.00)" fill="#000"><text x="0.00" y="0.00" style="font-family:&quot;Liberation Sans&quot;;font-style:normal;font-weight:normal;font-size:46.50px;white-space:pre">0</text></g>
<g transform="translate(75.99 1074.40)" fill="#000"><text x="0.00" y="0.00" style="font-family:&quot;Liberation Sans&quot;;font-style:normal;font-weight:normal;font-size:46.50px;white-space:pre">5</text></g>
<g transform="translate(52.10 1004.80)" fill="#000"><path d="M17.34 0.00L13.25 0.00L13.25 -26.04C12.28 -25.11 10.97 -24.18 9.35 -23.20C7.72 -22.27 6.28 -21.53 5.02 -21.06L5.02 -25.02C7.30 -26.09 9.30 -27.39 11.02 -28.92C12.74 -30.46 13.95 -31.95 14.69 -33.29L17.34 -33.29Z"/><text x="23.75" y="0.00" style="font-family:&quot;Liberation Sans&quot;;font-style:normal;font-weight:normal;font-size:46.50px;white-space:pre">0</text></g>
<g transform="translate(52.24 935.20)" fill="#000"><path d="M17.34 0.00L13.25 0.00L13.25 -26.04C12.28 -25.11 10.97 -24.18 9.35 -23.20C7.72 -22.27 6.28 -21.53 5.02 -21.06L5.02 -25.02C7.30 -26.09 9.30 -27.39 11.02 -28.92C12.74 -30.46 13.95 -31.95 14.69 -33.29L17.34 -33.29Z"/><text x="23.75" y="0.00" style="font-family:&quot;Liberation Sans&quot;;font-style:normal;font-weight:normal;font-size:46.50px;white-space:pre">5</text></g>
<g transform="translate(872.38 62.20)" fill="#000"><text x="0.00 23.76 34.58" y="0.00" style="font-family:&quot;Liberation Sans&quot;;font-style:normal;font-weight:normal;font-size:46.50px;white-space:pre">0.0</text></g>
<g transform="translate(872.13 159.70)" fill="#000"><text x="0.00 13.38 37.15 47.97" y="0.00" style="font-family:&quot;Liberation Sans&quot;;font-style:normal;font-weight:normal;font-size:46.50px;white-space:pre">-0.2</text></g>
<g transform="translate(872.13 257.20)" fill="#000"><text x="0.00 13.38 37.15 47.97" y="0.00" style="font-family:&quot;Liberation Sans&quot;;font-style:normal;font-weight:normal;font-size:46.50px;white-space:pre">-0.4</text></g>
<g transform="translate(872.38 297.00)" fill="#000"><text x="0.00 23.76" y="0.00" style="font-family:&quot;Liberation Sans&quot;;font-style:normal;font-weight:normal;font-size:46.50px;white-space:pre">0.</text><path d="M51.92 0.00L47.83 0.00L47.83 -26.04C46.86 -25.11 45.55 -24.18 43.93 -23.20C42.30 -22.27 40.86 -21.53 39.60 -21.06L39.60 -25.02C41.88 -26.09 43.88 -27.39 45.60 -28.92C47.32 -30.46 48.53 -31.95 49.27 -33.29L51.92 -33.29Z"/></g>
<g transform="translate(872.38 359.80)" fill="#000"><text x="0.00 23.76 34.58" y="0.00" style="font-family:&quot;Liberation Sans&quot;;font-style:normal;font-weight:normal;font-size:46.50px;white-space:pre">0.0</text></g>
<g transform="translate(872.13 422.60)" fill="#000"><text x="0.00 13.38 37.15" y="0.00" style="font-family:&quot;Liberation Sans&quot;;font-style:normal;font-weight:normal;font-size:46.50px;white-space:pre">-0.</text><path d="M65.31 0.00L61.22 0.00L61.22 -26.04C60.24 -25.11 58.94 -24.18 57.31 -23.20C55.68 -22.27 54.24 -21.53 52.99 -21.06L52.99 -25.02C55.27 -26.09 57.27 -27.39 58.99 -28.92C60.71 -30.46 61.92 -31.95 62.66 -33.29L65.31 -33.29Z"/></g>
<g transform="translate(872.13 485.40)" fill="#000"><text x="0.00 13.38 37.15 47.97" y="0.00" style="font-family:&quot;Liberation Sans&quot;;font-style:normal;font-weight:normal;font-size:46.50px;white-space:pre">-0.2</text></g>
<g transform="translate(219.27 552.70)" fill="#000"><text x="0.00" y="0.00" style="font-family:&quot;Liberation Sans&quot;;font-style:normal;font-weight:normal;font-size:46.50px;white-space:pre">0</text></g>
<g transform="translate(219.27 1180.00)" fill="#000"><text x="0.00" y="0.00" style="font-family:&quot;Liberation Sans&quot;;font-style:normal;font-weight:normal;font-size:46.50px;white-space:pre">0</text></g>
<g transform="translate(336.97 552.70)" fill="#000"><path d="M17.34 0.00L13.25 0.00L13.25 -26.04C12.28 -25.11 10.97 -24.18 9.35 -23.20C7.72 -22.27 6.28 -21.53 5.02 -21.06L5.02 -25.02C7.30 -26.09 9.30 -27.39 11.02 -28.92C12.74 -30.46 13.95 -31.95 14.69 -33.29L17.34 -33.29Z"/></g>
<g transform="translate(336.97 1180.00)" fill="#000"><path d="M17.34 0.00L13.25 0.00L13.25 -26.04C12.28 -25.11 10.97 -24.18 9.35 -23.20C7.72 -22.27 6.28 -21.53 5.02 -21.06L5.02 -25.02C7.30 -26.09 9.30 -27.39 11.02 -28.92C12.74 -30.46 13.95 -31.95 14.69 -33.29L17.34 -33.29Z"/></g>
<g transform="translate(451.17 552.70)" fill="#000"><text x="0.00" y="0.00" style="font-family:&quot;Liberation Sans&quot;;font-style:normal;font-weight:normal;font-size:46.50px;white-space:pre">2</text></g>
<g transform="translate(451.17 1180.00)" fill="#000"><text x="0.00" y="0.00" style="font-family:&quot;Liberation Sans&quot;;font-style:normal;font-weight:normal;font-size:46.50px;white-space:pre">2</text></g>
<g transform="translate(567.26 552.70)" fill="#000"><text x="0.00" y="0.00" style="font-family:&quot;Liberation Sans&quot;;font-style:normal;font-weight:normal;font-size:46.50px;white-space:pre">3</text></g>
<g transform="translate(567.26 1180.00)" fill="#000"><text x="0.00" y="0.00" style="font-family:&quot;Liberation Sans&quot;;font-style:normal;font-weight:normal;font-size:46.50px;white-space:pre">3</text></g>
<g transform="translate(683.22 552.70)" fill="#000"><text x="0.00" y="0.00" style="font-family:&quot;Liberation Sans&quot;;font-style:normal;font-weight:normal;font-size:46.50px;white-space:pre">4</text></g>
<g transform="translate(683.22 1180.00)" fill="#000"><text x="0.00" y="0.00" style="font-family:&quot;Liberation Sans&quot;;font-style:normal;font-weight:normal;font-size:46.50px;white-space:pre">4</text></g>
<g transform="translate(799.06 552.70)" fill="#000"><text x="0.00" y="0.00" style="font-family:&quot;Liberation Sans&quot;;font-style:normal;font-weight:normal;font-size:46.50px;white-space:pre">5</text></g>
<g transform="translate(799.06 1180.00)" fill="#000"><text x="0.00" y="0.00" style="font-family:&quot;Liberation Sans&quot;;font-style:normal;font-weight:normal;font-size:46.50px;white-space:pre">5</text></g>
<g transform="translate(441.57 597.90)" fill="#000"><text x="0.00" y="0.00" style="font-family:&quot;Liberation Sans&quot;;font-style:italic;font-weight:normal;font-size:46.50px;white-space:pre">H</text></g>
<g transform="translate(484.62 597.90)" fill="#000"><text x="0.00 14.43 41.78" y="0.00" style="font-family:&quot;Liberation Sans&quot;;font-style:normal;font-weight:normal;font-size:46.50px;white-space:pre">(T)</text></g>
<g transform="translate(441.57 1223.70)" fill="#000"><text x="0.00" y="0.00" style="font-family:&quot;Liberation Sans&quot;;font-style:italic;font-weight:normal;font-size:46.50px;white-space:pre">H</text></g>
<g transform="translate(484.62 1223.70)" fill="#000"><text x="0.00 14.43 41.78" y="0.00" style="font-family:&quot;Liberation Sans&quot;;font-style:normal;font-weight:normal;font-size:46.50px;white-space:pre">(T)</text></g>
<g transform="translate(63.60 597.43) rotate(-90)" fill="#000"><text x="0.00 31.39 55.23 79.07 102.91 111.55 132.84 141.48 162.77 186.60 197.78 206.42 230.26 241.44 265.28 278.96 302.80 324.09 335.26 359.10 382.94 394.12 407.80 431.64 445.33 469.17 480.34 491.52 515.36 539.20 547.84 559.02 580.30" y="0.00" style="font-family:&quot;Liberation Sans&quot;;font-style:normal;font-weight:normal;font-size:45.50px;white-space:pre">Repulsive interacton (arb. units)</text></g>
<g transform="translate(33.00 1126.20) rotate(-90)" fill="#000"><text x="0.00 11.32 35.30 46.62 57.94 69.26 78.05 102.03 113.35 137.33 161.32 182.75 191.53 202.85 224.28 235.60 249.43 273.41 287.24 311.23 322.55 333.87 357.85 381.83 390.62 401.94 423.37" y="0.00" style="font-family:&quot;Liberation Sans&quot;;font-style:normal;font-weight:normal;font-size:45.50px;white-space:pre">Int. intensity (arb. units)</text></g>
<g transform="translate(230.88 93.50)" fill="#000"><text x="0.00 25.56 32.87" y="0.00" style="font-family:&quot;Liberation Sans&quot;;font-style:italic;font-weight:normal;font-size:36.50px;white-space:pre">Rl,</text></g>
<g transform="translate(283.09 93.50)" fill="#000"><text x="0.00" y="0.00" style="font-family:&quot;Liberation Sans&quot;;font-style:italic;font-weight:normal;font-size:36.50px;white-space:pre">ħ</text></g>
<g transform="translate(303.99 93.50)" fill="#000"><text x="0.00" y="0.00" style="font-family:&quot;Liberation Serif&quot;;font-style:italic;font-weight:normal;font-size:36.50px;white-space:pre">ω</text></g>
<g transform="translate(324.79 102.90)" fill="#000"><text x="0.00" y="0.00" style="font-family:&quot;Liberation Sans&quot;;font-style:normal;font-weight:normal;font-size:24.00px;white-space:pre">2</text></g>
<g transform="translate(226.19 148.70)" fill="#000"><text x="0.00" y="0.00" style="font-family:&quot;Liberation Sans&quot;;font-style:italic;font-weight:normal;font-size:36.50px;white-space:pre">ħ</text></g>
<g transform="translate(246.79 148.70)" fill="#000"><text x="0.00" y="0.00" style="font-family:&quot;Liberation Serif&quot;;font-style:italic;font-weight:normal;font-size:36.50px;white-space:pre">ω</text></g>
<g transform="translate(267.79 158.40)" fill="#000"><text x="0.00" y="0.00" style="font-family:&quot;Liberation Sans&quot;;font-style:normal;font-weight:normal;font-size:24.00px;white-space:pre">2</text></g>
<g transform="translate(268.29 133.50)" fill="#000"><text x="0.00 12.09 24.18" y="0.00" style="font-family:&quot;Liberation Sans&quot;;font-style:normal;font-weight:normal;font-size:24.00px;white-space:pre">obs</text></g>
<g transform="translate(314.38 148.70)" fill="#000"><text x="0.00" y="0.00" style="font-family:&quot;Liberation Sans&quot;;font-style:normal;font-weight:normal;font-size:36.50px;white-space:pre">-</text></g>
<g transform="translate(337.79 148.70)" fill="#000"><text x="0.00" y="0.00" style="font-family:&quot;Liberation Sans&quot;;font-style:italic;font-weight:normal;font-size:36.50px;white-space:pre">ħ</text></g>
<g transform="translate(358.79 148.70)" fill="#000"><text x="0.00" y="0.00" style="font-family:&quot;Liberation Serif&quot;;font-style:italic;font-weight:normal;font-size:36.50px;white-space:pre">ω</text></g>
<g transform="translate(379.79 158.40)" fill="#000"><text x="0.00" y="0.00" style="font-family:&quot;Liberation Sans&quot;;font-style:normal;font-weight:normal;font-size:24.00px;white-space:pre">2</text></g>
<g transform="translate(379.98 133.50)" fill="#000"><text x="0.00 10.29 21.93 25.55" y="0.00" style="font-family:&quot;Liberation Sans&quot;;font-style:normal;font-weight:normal;font-size:24.00px;white-space:pre">calc</text></g>
<g transform="translate(224.88 351.50)" fill="#000"><text x="0.00 25.56 32.87" y="0.00" style="font-family:&quot;Liberation Sans&quot;;font-style:italic;font-weight:normal;font-size:36.50px;white-space:pre">Rl,</text></g>
<g transform="translate(278.09 351.50)" fill="#000"><text x="0.00" y="0.00" style="font-family:&quot;Liberation Sans&quot;;font-style:italic;font-weight:normal;font-size:36.50px;white-space:pre">ħ</text></g>
<g transform="translate(298.99 351.50)" fill="#000"><text x="0.00" y="0.00" style="font-family:&quot;Liberation Serif&quot;;font-style:italic;font-weight:normal;font-size:36.50px;white-space:pre">ω</text></g>
<g transform="translate(319.71 360.60)" fill="#000"><path d="M8.95 0.00L6.84 0.00L6.84 -13.44C6.34 -12.96 5.66 -12.48 4.82 -11.98C3.98 -11.50 3.24 -11.11 2.59 -10.87L2.59 -12.91C3.77 -13.46 4.80 -14.14 5.69 -14.93C6.58 -15.72 7.20 -16.49 7.58 -17.18L8.95 -17.18Z"/></g>
<g transform="translate(217.39 402.30)" fill="#000"><text x="0.00" y="0.00" style="font-family:&quot;Liberation Sans&quot;;font-style:italic;font-weight:normal;font-size:36.50px;white-space:pre">ħ</text></g>
<g transform="translate(238.29 402.30)" fill="#000"><text x="0.00" y="0.00" style="font-family:&quot;Liberation Serif&quot;;font-style:italic;font-weight:normal;font-size:36.50px;white-space:pre">ω</text></g>
<g transform="translate(257.21 411.40)" fill="#000"><path d="M8.95 0.00L6.84 0.00L6.84 -13.44C6.34 -12.96 5.66 -12.48 4.82 -11.98C3.98 -11.50 3.24 -11.11 2.59 -10.87L2.59 -12.91C3.77 -13.46 4.80 -14.14 5.69 -14.93C6.58 -15.72 7.20 -16.49 7.58 -17.18L8.95 -17.18Z"/></g>
<g transform="translate(259.39 387.10)" fill="#000"><text x="0.00 12.04 24.08" y="0.00" style="font-family:&quot;Liberation Sans&quot;;font-style:normal;font-weight:normal;font-size:24.00px;white-space:pre">obs</text></g>
<g transform="translate(297.68 402.30)" fill="#000"><text x="0.00" y="0.00" style="font-family:&quot;Liberation Sans&quot;;font-style:normal;font-weight:normal;font-size:36.50px;white-space:pre">-</text></g>
<g transform="translate(310.09 402.30)" fill="#000"><text x="0.00" y="0.00" style="font-family:&quot;Liberation Sans&quot;;font-style:italic;font-weight:normal;font-size:36.50px;white-space:pre">ħ</text></g>
<g transform="translate(331.39 402.30)" fill="#000"><text x="0.00" y="0.00" style="font-family:&quot;Liberation Serif&quot;;font-style:italic;font-weight:normal;font-size:36.50px;white-space:pre">ω</text></g>
<g transform="translate(350.31 411.40)" fill="#000"><path d="M8.95 0.00L6.84 0.00L6.84 -13.44C6.34 -12.96 5.66 -12.48 4.82 -11.98C3.98 -11.50 3.24 -11.11 2.59 -10.87L2.59 -12.91C3.77 -13.46 4.80 -14.14 5.69 -14.93C6.58 -15.72 7.20 -16.49 7.58 -17.18L8.95 -17.18Z"/></g>
<g transform="translate(351.88 387.10)" fill="#000"><text x="0.00 10.36 22.06 25.75" y="0.00" style="font-family:&quot;Liberation Sans&quot;;font-style:normal;font-weight:normal;font-size:24.00px;white-space:pre">calc</text></g>
<g transform="translate(224.41 804.00)" fill="#000"><text x="0.00" y="0.00" style="font-family:&quot;Liberation Sans&quot;;font-style:italic;font-weight:normal;font-size:35.50px;white-space:pre">ħ</text></g>
<g transform="translate(242.74 804.00)" fill="#000"><text x="0.00" y="0.00" style="font-family:&quot;Liberation Sans&quot;;font-style:italic;font-weight:normal;font-size:35.50px;white-space:pre">ω</text></g>
<g transform="translate(269.89 813.80)" fill="#000"><text x="0.00" y="0.00" style="font-family:&quot;Liberation Sans&quot;;font-style:normal;font-weight:normal;font-size:24.00px;white-space:pre">2</text></g>
<g transform="translate(222.01 856.60)" fill="#000"><text x="0.00" y="0.00" style="font-family:&quot;Liberation Sans&quot;;font-style:normal;font-weight:normal;font-size:36.50px;white-space:pre">R</text></g>
<g transform="translate(246.41 856.60)" fill="#000"><text x="0.00" y="0.00" style="font-family:&quot;Liberation Sans&quot;;font-style:normal;font-weight:normal;font-size:36.50px;white-space:pre">M</text></g>
<g transform="translate(278.03 866.60)" fill="#000"><text x="0.00" y="0.00" style="font-family:&quot;Liberation Sans&quot;;font-style:normal;font-weight:normal;font-size:24.00px;white-space:pre">H</text></g>
<g transform="translate(394.34 810.50)" fill="#000"><text x="0.00 22.10 40.16" y="0.00" style="font-family:&quot;Liberation Sans&quot;;font-style:normal;font-weight:normal;font-size:36.50px;white-space:pre">Sum</text></g>
<g transform="translate(394.65 855.00)" fill="#000"><text x="0.00 24.44 42.82 49.01 65.35" y="0.00" style="font-family:&quot;Liberation Sans&quot;;font-style:normal;font-weight:normal;font-size:36.50px;white-space:pre">Calc.</text></g>
<g transform="translate(222.91 985.20)" fill="#000"><text x="0.00" y="0.00" style="font-family:&quot;Liberation Sans&quot;;font-style:italic;font-weight:normal;font-size:35.50px;white-space:pre">ħ</text></g>
<g transform="translate(240.84 985.20)" fill="#000"><text x="0.00" y="0.00" style="font-family:&quot;Liberation Sans&quot;;font-style:italic;font-weight:normal;font-size:35.50px;white-space:pre">ω</text></g>
<g transform="translate(268.89 995.00)" fill="#000"><text x="0.00" y="0.00" style="font-family:&quot;Liberation Sans&quot;;font-style:normal;font-weight:normal;font-size:24.00px;white-space:pre">2</text></g>
<g transform="translate(220.91 1039.00)" fill="#000"><text x="0.00" y="0.00" style="font-family:&quot;Liberation Sans&quot;;font-style:normal;font-weight:normal;font-size:36.50px;white-space:pre">R</text></g>
<g transform="translate(245.11 1039.00)" fill="#000"><text x="0.00" y="0.00" style="font-family:&quot;Liberation Sans&quot;;font-style:normal;font-weight:normal;font-size:36.50px;white-space:pre">M</text></g>
<g transform="translate(276.33 1048.00)" fill="#000"><text x="0.00" y="0.00" style="font-family:&quot;Liberation Sans&quot;;font-style:normal;font-weight:normal;font-size:24.00px;white-space:pre">L</text></g>
<g transform="translate(399.04 995.10)" fill="#000"><text x="0.00 22.70 41.36" y="0.00" style="font-family:&quot;Liberation Sans&quot;;font-style:normal;font-weight:normal;font-size:36.50px;white-space:pre">Sum</text></g>
<g transform="translate(398.85 1039.40)" fill="#000"><text x="0.00 24.69 43.32 49.76 66.35" y="0.00" style="font-family:&quot;Liberation Sans&quot;;font-style:normal;font-weight:normal;font-size:36.50px;white-space:pre">Calc.</text></g>
<g transform="translate(959.80 69.36) rotate(90)" fill="#000"><text x="0.00" y="0.00" style="font-family:&quot;Liberation Sans&quot;;font-style:italic;font-weight:normal;font-size:44.60px;white-space:pre">ħ</text></g>
<g transform="translate(959.80 95.94) rotate(90)" fill="#000"><text x="0.00" y="0.00" style="font-family:&quot;Liberation Serif&quot;;font-style:italic;font-weight:normal;font-size:47.00px;white-space:pre">ω</text></g>
<g transform="translate(948.30 124.40) rotate(90)" fill="#000"><text x="0.00" y="0.00" style="font-family:&quot;Liberation Sans&quot;;font-style:italic;font-weight:normal;font-size:31.00px;white-space:pre">i</text></g>
<g transform="translate(977.20 123.60) rotate(90)" fill="#000"><text x="0.00 16.26 32.52" y="0.00" style="font-family:&quot;Liberation Sans&quot;;font-style:normal;font-weight:normal;font-size:31.00px;white-space:pre">obs</text></g>
<g transform="translate(959.80 185.64) rotate(90)" fill="#000"><text x="0.00" y="0.00" style="font-family:&quot;Liberation Sans&quot;;font-style:normal;font-weight:normal;font-size:44.00px;white-space:pre">-</text></g>
<g transform="translate(959.80 215.46) rotate(90)" fill="#000"><text x="0.00" y="0.00" style="font-family:&quot;Liberation Sans&quot;;font-style:italic;font-weight:normal;font-size:44.60px;white-space:pre">ħ</text></g>
<g transform="translate(959.80 242.04) rotate(90)" fill="#000"><text x="0.00" y="0.00" style="font-family:&quot;Liberation Serif&quot;;font-style:italic;font-weight:normal;font-size:47.00px;white-space:pre">ω</text></g>
<g transform="translate(948.30 269.80) rotate(90)" fill="#000"><text x="0.00" y="0.00" style="font-family:&quot;Liberation Sans&quot;;font-style:italic;font-weight:normal;font-size:31.00px;white-space:pre">i</text></g>
<g transform="translate(977.20 271.48) rotate(90)" fill="#000"><text x="0.00 14.27 30.28 35.93" y="0.00" style="font-family:&quot;Liberation Sans&quot;;font-style:normal;font-weight:normal;font-size:31.00px;white-space:pre">calc</text></g>
<g transform="translate(959.70 336.38) rotate(90)" fill="#000"><text x="0.00 13.97 50.70 74.82 103.99" y="0.00" style="font-family:&quot;Liberation Sans&quot;;font-style:normal;font-weight:normal;font-size:45.50px;white-space:pre">(meV)</text></g>
</svg>
</body></html>
